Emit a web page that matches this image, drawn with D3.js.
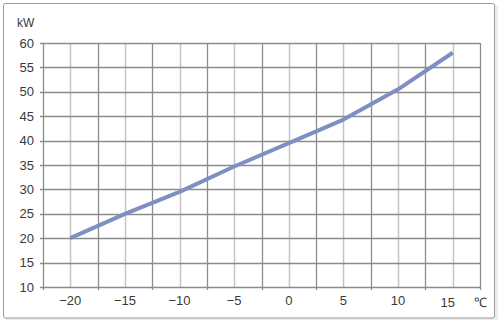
<!DOCTYPE html>
<html><head><meta charset="utf-8">
<script src="https://cdn.jsdelivr.net/npm/d3@7"></script>
<style>body{margin:0;background:#fff}svg{display:block}</style>
</head><body>
<svg id="c" width="500" height="322"></svg>
<script>
const temps = [-20, -15, -10, -5, 0, 5, 10, 15];
const power = [20, 25, 29.5, 34.7, 39.5, 44.3, 50.5, 58];
const yTicks = [10, 15, 20, 25, 30, 35, 40, 45, 50, 55, 60];
const xMajor = [-22.5, -17.5, -12.5, -7.5, -2.5, 2.5, 7.5, 12.5, 17.5];
const xUnit = "℃", yUnit = "kW";

const svg = d3.select("#c");
const x = d3.scaleLinear().domain([-22.5, 17.5]).range([43, 480]);
const y = d3.scaleLinear().domain([10, 60]).range([287, 43]);
const font = "Liberation Sans, Arial, sans-serif";

// frame with soft shadow
svg.append("rect").attr("x", 5).attr("y", 5).attr("width", 493).attr("height", 315).attr("rx", 2)
  .attr("fill", "#ececec");
svg.append("rect").attr("x", 3.5).attr("y", 3.5).attr("width", 491).attr("height", 314.5).attr("rx", 2)
  .attr("fill", "#fff").attr("stroke", "#9a9a9a").attr("stroke-width", 1);

const g = svg.append("g");
// light vertical lines at labelled temps
g.selectAll(".vl").data(temps).join("line")
  .attr("x1", d => Math.round(x(d)) + 0.5).attr("x2", d => Math.round(x(d)) + 0.5)
  .attr("y1", y(60)).attr("y2", y(10))
  .attr("stroke", "#c4c4c4").attr("stroke-width", 1.5);
// horizontal lines
g.selectAll(".hl").data(yTicks).join("line")
  .attr("x1", x(-22.5) - 3).attr("x2", x(17.5))
  .attr("y1", d => Math.round(y(d)) + 0.5).attr("y2", d => Math.round(y(d)) + 0.5)
  .attr("stroke", "#8c8c8c").attr("stroke-width", 1.3);
// dark vertical lines with tick marks below
g.selectAll(".vd").data(xMajor).join("line")
  .attr("x1", d => Math.round(x(d)) + 0.5).attr("x2", d => Math.round(x(d)) + 0.5)
  .attr("y1", y(60)).attr("y2", y(10) + 3)
  .attr("stroke", "#8c8c8c").attr("stroke-width", 1.3);

// y labels
svg.append("g").selectAll("text").data(yTicks).join("text")
  .attr("x", 34).attr("y", d => y(d)).attr("dy", "0.36em")
  .attr("text-anchor", "end").attr("font-family", font).attr("font-size", 13).attr("fill", "#3a3a3a")
  .text(d => d);
// x labels
svg.append("g").selectAll("text").data(temps).join("text")
  .attr("x", d => x(d) + (d === 15 ? -5 : 0)).attr("y", d => d === 15 ? 307 : 305)
  .attr("text-anchor", "middle").attr("font-family", font).attr("font-size", 13).attr("fill", "#3a3a3a")
  .text(d => d < 0 ? "\u2212" + Math.abs(d) : d);

svg.append("text").attr("x", 17).attr("y", 27).attr("font-family", font).attr("font-size", 12)
  .attr("fill", "#3a3a3a").text(yUnit);
svg.append("text").attr("x", 474).attr("y", 307).attr("font-family", font).attr("font-size", 13)
  .attr("fill", "#3a3a3a").text(xUnit);

// data line
const line = d3.line().x((d, i) => x(temps[i])).y(d => y(d));
svg.append("path").datum(power).attr("d", line)
  .attr("fill", "none").attr("stroke", "#7f8fc2").attr("stroke-width", 4)
  .attr("stroke-linejoin", "round");
</script>
</body></html>
